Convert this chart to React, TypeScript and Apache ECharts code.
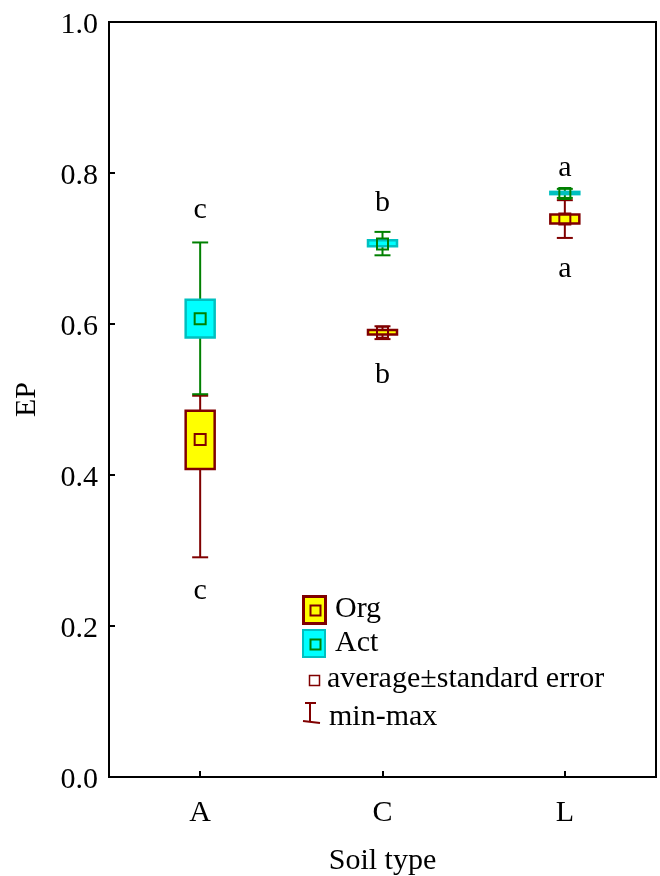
import React, { useEffect, useRef } from "react";
import * as echarts from "echarts";

const categories = ["A", "C", "L"];

const orgMean = [0.447, 0.589, 0.739];
const orgSeLow = [0.408, 0.586, 0.733];
const orgSeHigh = [0.485, 0.592, 0.745];
const orgMin = [0.291, 0.58, 0.714];
const orgMax = [0.505, 0.597, 0.764];

const actMean = [0.607, 0.706, 0.773];
const actSeLow = [0.582, 0.703, 0.772];
const actSeHigh = [0.632, 0.711, 0.775];
const actMin = [0.507, 0.691, 0.767];
const actMax = [0.708, 0.722, 0.779];

const actLetters = ["c", "b", "a"];
const actLetterY = [0.754, 0.764, 0.81];
const orgLetters = ["c", "b", "a"];
const orgLetterY = [0.25, 0.536, 0.676];

const FONT = "Liberation Serif";
const FS = 30;
const MAROON = "#800000";
const GREEN = "#008000";
const YELLOW = "#ffff00";
const CYAN = "#00ffff";
const CYAN_DARK = "#00c0c0";

function makeRender(fill: string, boxStroke: string, lineColor: string, meanStroke: string, letters: string[]) {
  return (params: any, api: any) => {
    const idx = api.value(0);
    const pt = (v: number) => api.coord([idx, v]);
    const x = pt(api.value(1))[0];
    const yMean = pt(api.value(1))[1];
    const yLo = pt(api.value(2))[1];
    const yHi = pt(api.value(3))[1];
    const yMin = pt(api.value(4))[1];
    const yMax = pt(api.value(5))[1];
    const yLetter = pt(api.value(6))[1];
    const letter = letters[params.dataIndex];
    const boxW = 29;
    const capW = 16;
    const sq = 11;
    const lineStyle = { stroke: lineColor, lineWidth: 2 };
    return {
      type: "group",
      children: [
        { type: "line", shape: { x1: x, y1: yMin, x2: x, y2: yMax }, style: lineStyle },
        { type: "line", shape: { x1: x - capW / 2, y1: yMin, x2: x + capW / 2, y2: yMin }, style: lineStyle },
        { type: "line", shape: { x1: x - capW / 2, y1: yMax, x2: x + capW / 2, y2: yMax }, style: lineStyle },
        {
          type: "rect",
          shape: { x: x - boxW / 2, y: yHi, width: boxW, height: Math.max(yLo - yHi, 1) },
          style: { fill, stroke: boxStroke, lineWidth: 2.5 },
        },
        {
          type: "rect",
          shape: { x: x - sq / 2, y: yMean - sq / 2, width: sq, height: sq },
          style: { fill: "none", stroke: meanStroke, lineWidth: 2 },
        },
        {
          type: "text",
          x,
          y: yLetter,
          style: {
            text: letter,
            fill: "#000",
            font: `${FS}px "${FONT}"`,
            align: "center",
            verticalAlign: "middle",
          },
        },
      ],
    };
  };
}

export default function App() {
  const ref = useRef<HTMLDivElement>(null);
  useEffect(() => {
    if (!ref.current) return;
    const chart = echarts.init(ref.current, undefined, { renderer: "svg" });
    const orgData = categories.map((_, i) => [i, orgMean[i], orgSeLow[i], orgSeHigh[i], orgMin[i], orgMax[i], orgLetterY[i]]);
    const actData = categories.map((_, i) => [i, actMean[i], actSeLow[i], actSeHigh[i], actMin[i], actMax[i], actLetterY[i]]);
    const lf = `${FS}px "${FONT}"`;
    const legendX = 302;
    chart.setOption({
      animation: false,
      textStyle: { fontFamily: FONT },
      grid: {
        left: 109,
        width: 547,
        top: 22,
        height: 755,
        containLabel: false,
        outerBoundsMode: "none",
        show: true,
        borderColor: "#000",
        borderWidth: 2,
        backgroundColor: "transparent",
      },
      xAxis: {
        type: "category",
        data: categories,
        boundaryGap: true,
        name: "Soil type",
        nameLocation: "middle",
        nameGap: 66,
        nameMoveOverlap: false,
        nameTextStyle: { fontFamily: FONT, fontSize: FS, color: "#000", verticalAlign: "top", lineHeight: 30 },
        axisLine: { lineStyle: { color: "#000", width: 2 } },
        axisTick: { show: true, inside: true, alignWithLabel: true, length: 6, lineStyle: { color: "#000", width: 2 } },
        axisLabel: { fontFamily: FONT, fontSize: FS, color: "#000", margin: 18 },
        splitLine: { show: false },
      },
      yAxis: {
        type: "value",
        min: 0,
        max: 1,
        interval: 0.2,
        name: "EP",
        nameLocation: "middle",
        nameGap: 70,
        nameRotate: 90,
        nameTextStyle: { fontFamily: FONT, fontSize: FS, color: "#000" },
        axisLine: { show: true, lineStyle: { color: "#000", width: 2 } },
        axisTick: { show: true, inside: true, length: 6, lineStyle: { color: "#000", width: 2 } },
        axisLabel: {
          fontFamily: FONT,
          fontSize: FS,
          color: "#000",
          margin: 11,
          formatter: (v: number) => v.toFixed(1),
        },
        splitLine: { show: false },
      },
      series: [
        {
          type: "custom",
          name: "Org",
          data: orgData,
          encode: { x: 0, y: [1, 2, 3, 4, 5] },
          renderItem: makeRender(YELLOW, MAROON, MAROON, MAROON, orgLetters),
          z: 2,
        },
        {
          type: "custom",
          name: "Act",
          data: actData,
          encode: { x: 0, y: [1, 2, 3, 4, 5] },
          renderItem: makeRender(CYAN, CYAN_DARK, GREEN, GREEN, actLetters),
          z: 3,
        },
      ],
      graphic: [
        { type: "rect", left: legendX, top: 595, shape: { width: 22, height: 27 }, style: { fill: YELLOW, stroke: MAROON, lineWidth: 3 } },
        { type: "rect", left: legendX + 6, top: 603, shape: { width: 10, height: 10 }, style: { fill: "none", stroke: MAROON, lineWidth: 2 } },
        { type: "text", left: 335, top: 591, style: { text: "Org", font: lf, fill: "#000" } },
        { type: "rect", left: legendX, top: 629, shape: { width: 22, height: 27 }, style: { fill: CYAN, stroke: CYAN_DARK, lineWidth: 2 } },
        { type: "rect", left: legendX + 6, top: 637, shape: { width: 10, height: 10 }, style: { fill: "none", stroke: GREEN, lineWidth: 2 } },
        { type: "text", left: 335, top: 625, style: { text: "Act", font: lf, fill: "#000" } },
        { type: "rect", left: 307, top: 673, shape: { width: 10, height: 10 }, style: { fill: "none", stroke: MAROON, lineWidth: 1.5 } },
        { type: "text", left: 327, top: 661, style: { text: "average±standard error", font: lf, fill: "#000" } },
        { type: "line", shape: { x1: 305, y1: 703, x2: 316, y2: 703 }, style: { stroke: MAROON, lineWidth: 2 } },
        { type: "line", shape: { x1: 310, y1: 703, x2: 310, y2: 721 }, style: { stroke: MAROON, lineWidth: 2 } },
        { type: "line", shape: { x1: 303, y1: 721, x2: 320, y2: 723 }, style: { stroke: MAROON, lineWidth: 2 } },
        { type: "text", left: 329, top: 699, style: { text: "min-max", font: lf, fill: "#000" } },
      ],
    });
    return () => chart.dispose();
  }, []);
  return <div ref={ref} style={{ position: "fixed", left: 0, top: 0, width: 660, height: 876 }} />;
}
